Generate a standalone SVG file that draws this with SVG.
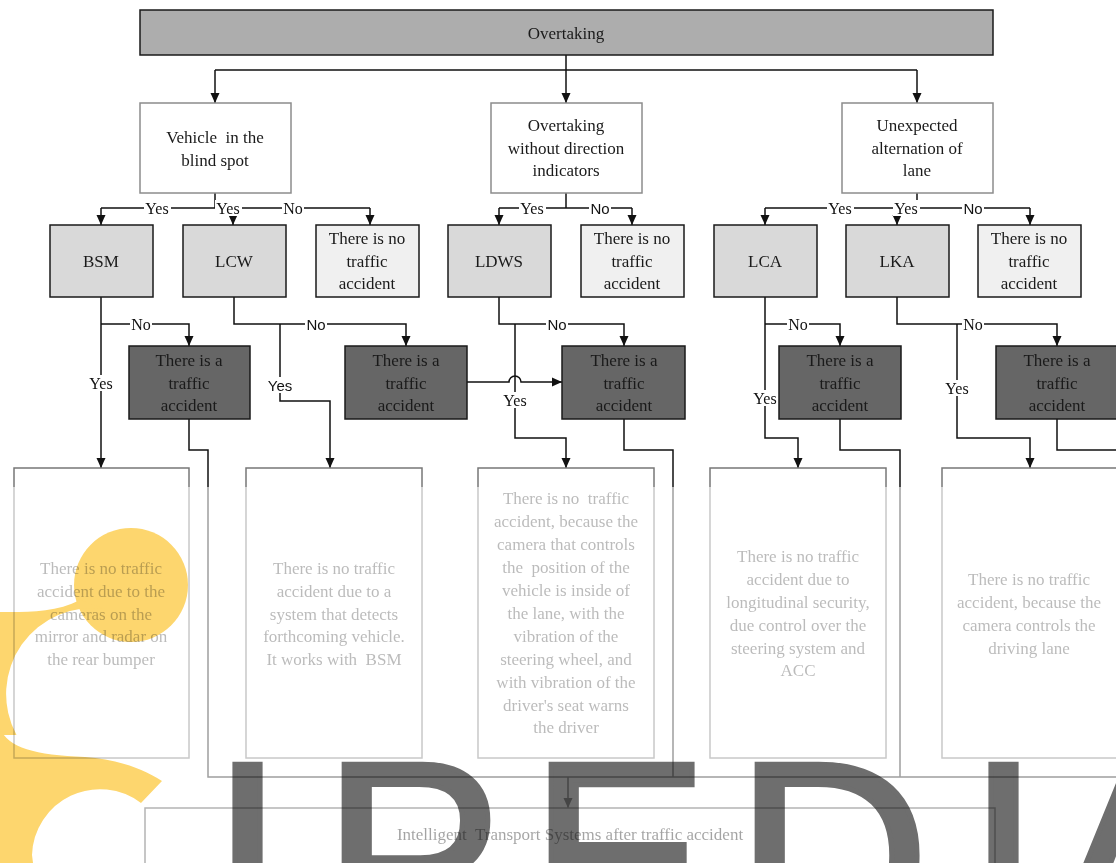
<svg xmlns="http://www.w3.org/2000/svg" width="1116" height="863" viewBox="0 0 1116 863">
  <defs>
    <marker id="arr" markerUnits="userSpaceOnUse" markerWidth="10" markerHeight="10" refX="10" refY="5" orient="auto">
      <path d="M0,0.5 L10,5 L0,9.5 z" fill="#111"/>
    </marker>
    <style>
      .t { font-family: "Liberation Serif", "Times New Roman", serif; font-size: 17px; text-anchor: middle; fill: #1a1a1a; white-space: pre; }
      .lb { font-family: "Liberation Serif", "Times New Roman", serif; font-size: 16px; text-anchor: middle; fill: #111; }
      .lbs { font-family: "Liberation Sans", Arial, sans-serif; font-size: 15px; text-anchor: middle; fill: #111; }
      .bg { fill: #fff; }
      .head { fill: #adadad; stroke: #1a1a1a; stroke-width: 1.5; }
      .cond { fill: #fff; stroke: #8c8c8c; stroke-width: 1.5; }
      .sys { fill: #d9d9d9; stroke: #1a1a1a; stroke-width: 1.5; }
      .safe { fill: #f0f0f0; stroke: #1a1a1a; stroke-width: 1.5; }
      .acc { fill: #666; stroke: #1a1a1a; stroke-width: 1.5; }
      .note { fill: #fff; stroke: #777; stroke-width: 1.5; }
      .nt { font-family: "Liberation Serif", "Times New Roman", serif; font-size: 17px; text-anchor: middle; fill: #555; white-space: pre; }
      .c { fill: none; stroke: #111; stroke-width: 1.5; }
      .ca { fill: none; stroke: #111; stroke-width: 1.5; marker-end: url(#arr); }
    </style>
  </defs>

  <!-- connectors -->
  <g id="connectors">
    <path class="c" d="M566,55 V70 M215,70 H917"/>
    <path class="ca" d="M215,70 V103"/>
    <path class="ca" d="M566,70 V103"/>
    <path class="ca" d="M917,70 V103"/>

    <path class="c" d="M215,193 V208 M101,208 H370"/>
    <path class="ca" d="M101,208 V225"/>
    <path class="ca" d="M233,208 V225"/>
    <path class="ca" d="M370,208 V225"/>

    <path class="c" d="M566,193 V208 M499,208 H632"/>
    <path class="ca" d="M499,208 V225"/>
    <path class="ca" d="M632,208 V225"/>

    <path class="c" d="M917,193 V208 M765,208 H1030"/>
    <path class="ca" d="M765,208 V225"/>
    <path class="ca" d="M897,208 V225"/>
    <path class="ca" d="M1030,208 V225"/>

    <!-- BSM -->
    <path class="ca" d="M101,297 V468"/>
    <path class="ca" d="M101,324 H189 V346"/>
    <!-- LCW -->
    <path class="ca" d="M234,297 V324 H406 V346"/>
    <path class="ca" d="M280,324 V401 H330 V468"/>
    <!-- LDWS -->
    <path class="ca" d="M499,297 V324 H624 V346"/>
    <path class="ca" d="M515,324 V438 H566 V468"/>
    <path class="ca" d="M467,382 H509 A6,6 0 0 1 521,382 H562"/>
    <!-- LCA -->
    <path class="ca" d="M765,297 V438 H798 V468"/>
    <path class="ca" d="M765,324 H840 V346"/>
    <!-- LKA -->
    <path class="ca" d="M897,297 V324 H1057 V346"/>
    <path class="ca" d="M957,324 V438 H1030 V468"/>

    <!-- accident outflows to the final block -->
    <path class="c" d="M189,419 V450 H208 V777 H1116"/>
    <path class="c" d="M624,419 V450 H673 V777"/>
    <path class="c" d="M840,419 V450 H900 V777"/>
    <path class="c" d="M1057,419 V450 H1116"/>
    <path class="ca" d="M568,777 V808"/>
  </g>

  <!-- branch labels -->
  <g id="labels">
    <rect class="bg" x="144" y="200" width="27" height="16"/><text class="lb" x="157" y="214">Yes</text>
    <rect class="bg" x="215" y="200" width="27" height="16"/><text class="lb" x="228" y="214">Yes</text>
    <rect class="bg" x="282" y="200" width="22" height="16"/><text class="lb" x="293" y="214">No</text>
    <rect class="bg" x="519" y="200" width="27" height="16"/><text class="lb" x="532" y="214">Yes</text>
    <rect class="bg" x="589" y="200" width="22" height="16"/><text class="lbs" x="600" y="213.5">No</text>
    <rect class="bg" x="827" y="200" width="27" height="16"/><text class="lb" x="840" y="214">Yes</text>
    <rect class="bg" x="893" y="200" width="27" height="16"/><text class="lb" x="906" y="214">Yes</text>
    <rect class="bg" x="962" y="200" width="22" height="16"/><text class="lbs" x="973" y="213.5">No</text>

    <rect class="bg" x="130" y="316" width="22" height="16"/><text class="lb" x="141" y="330">No</text>
    <rect class="bg" x="88" y="375" width="27" height="16"/><text class="lb" x="101" y="389">Yes</text>
    <rect class="bg" x="305" y="316" width="22" height="16"/><text class="lbs" x="316" y="329.5">No</text>
    <rect class="bg" x="266" y="377" width="28" height="16"/><text class="lbs" x="280" y="390.5">Yes</text>
    <rect class="bg" x="546" y="316" width="22" height="16"/><text class="lbs" x="557" y="329.5">No</text>
    <rect class="bg" x="502" y="392" width="27" height="16"/><text class="lb" x="515" y="406">Yes</text>
    <rect class="bg" x="787" y="316" width="22" height="16"/><text class="lb" x="798" y="330">No</text>
    <rect class="bg" x="752" y="390" width="27" height="16"/><text class="lb" x="765" y="404">Yes</text>
    <rect class="bg" x="962" y="316" width="22" height="16"/><text class="lb" x="973" y="330">No</text>
    <rect class="bg" x="944" y="380" width="27" height="16"/><text class="lb" x="957" y="394">Yes</text>
  </g>

  <!-- root -->
  <g id="overtaking">
    <rect class="head" x="140" y="10" width="853" height="45"/>
    <text class="t" x="566" y="39">Overtaking</text>
  </g>

  <!-- situations -->
  <g id="blind-spot">
    <rect class="cond" x="140" y="103" width="151" height="90"/>
    <text class="t"><tspan x="215" y="143">Vehicle  in the</tspan><tspan x="215" y="166">blind spot</tspan></text>
  </g>
  <g id="no-indicators">
    <rect class="cond" x="491" y="103" width="151" height="90"/>
    <text class="t"><tspan x="566" y="131">Overtaking</tspan><tspan x="566" y="154">without direction</tspan><tspan x="566" y="176">indicators</tspan></text>
  </g>
  <g id="lane-change">
    <rect class="cond" x="842" y="103" width="151" height="90"/>
    <text class="t"><tspan x="917" y="131">Unexpected</tspan><tspan x="917" y="154">alternation of</tspan><tspan x="917" y="176">lane</tspan></text>
  </g>

  <!-- assistance systems -->
  <g id="bsm">
    <rect class="sys" x="50" y="225" width="103" height="72"/>
    <text class="t" x="101" y="267">BSM</text>
  </g>
  <g id="lcw">
    <rect class="sys" x="183" y="225" width="103" height="72"/>
    <text class="t" x="234" y="267">LCW</text>
  </g>
  <g id="safe-1">
    <rect class="safe" x="316" y="225" width="103" height="72"/>
    <text class="t"><tspan x="367" y="244">There is no</tspan><tspan x="367" y="267">traffic</tspan><tspan x="367" y="289">accident</tspan></text>
  </g>
  <g id="ldws">
    <rect class="sys" x="448" y="225" width="103" height="72"/>
    <text class="t" x="499" y="267">LDWS</text>
  </g>
  <g id="safe-2">
    <rect class="safe" x="581" y="225" width="103" height="72"/>
    <text class="t"><tspan x="632" y="244">There is no</tspan><tspan x="632" y="267">traffic</tspan><tspan x="632" y="289">accident</tspan></text>
  </g>
  <g id="lca">
    <rect class="sys" x="714" y="225" width="103" height="72"/>
    <text class="t" x="765" y="267">LCA</text>
  </g>
  <g id="lka">
    <rect class="sys" x="846" y="225" width="103" height="72"/>
    <text class="t" x="897" y="267">LKA</text>
  </g>
  <g id="safe-3">
    <rect class="safe" x="978" y="225" width="103" height="72"/>
    <text class="t"><tspan x="1029" y="244">There is no</tspan><tspan x="1029" y="267">traffic</tspan><tspan x="1029" y="289">accident</tspan></text>
  </g>

  <!-- accident outcomes -->
  <g id="acc-bsm">
    <rect class="acc" x="129" y="346" width="121" height="73"/>
    <text class="t"><tspan x="189" y="366">There is a</tspan><tspan x="189" y="389">traffic</tspan><tspan x="189" y="411">accident</tspan></text>
  </g>
  <g id="acc-lcw">
    <rect class="acc" x="345" y="346" width="122" height="73"/>
    <text class="t"><tspan x="406" y="366">There is a</tspan><tspan x="406" y="389">traffic</tspan><tspan x="406" y="411">accident</tspan></text>
  </g>
  <g id="acc-ldws">
    <rect class="acc" x="562" y="346" width="123" height="73"/>
    <text class="t"><tspan x="624" y="366">There is a</tspan><tspan x="624" y="389">traffic</tspan><tspan x="624" y="411">accident</tspan></text>
  </g>
  <g id="acc-lca">
    <rect class="acc" x="779" y="346" width="122" height="73"/>
    <text class="t"><tspan x="840" y="366">There is a</tspan><tspan x="840" y="389">traffic</tspan><tspan x="840" y="411">accident</tspan></text>
  </g>
  <g id="acc-lka">
    <rect class="acc" x="996" y="346" width="122" height="73"/>
    <text class="t"><tspan x="1057" y="366">There is a</tspan><tspan x="1057" y="389">traffic</tspan><tspan x="1057" y="411">accident</tspan></text>
  </g>

  <!-- explanations -->
  <g id="why-bsm">
    <rect class="note" x="14" y="468" width="175" height="290"/>
    <text class="nt"><tspan x="101" y="574">There is no traffic</tspan><tspan x="101" y="597">accident due to the</tspan><tspan x="101" y="620">cameras on the</tspan><tspan x="101" y="642">mirror and radar on</tspan><tspan x="101" y="665">the rear bumper</tspan></text>
  </g>
  <g id="why-lcw">
    <rect class="note" x="246" y="468" width="176" height="290"/>
    <text class="nt"><tspan x="334" y="574">There is no traffic</tspan><tspan x="334" y="597">accident due to a</tspan><tspan x="334" y="620">system that detects</tspan><tspan x="334" y="642">forthcoming vehicle.</tspan><tspan x="334" y="665">It works with  BSM</tspan></text>
  </g>
  <g id="why-ldws">
    <rect class="note" x="478" y="468" width="176" height="290"/>
    <text class="nt"><tspan x="566" y="504">There is no  traffic</tspan><tspan x="566" y="527">accident, because the</tspan><tspan x="566" y="550">camera that controls</tspan><tspan x="566" y="573">the  position of the</tspan><tspan x="566" y="596">vehicle is inside of</tspan><tspan x="566" y="619">the lane, with the</tspan><tspan x="566" y="642">vibration of the</tspan><tspan x="566" y="665">steering wheel, and</tspan><tspan x="566" y="688">with vibration of the</tspan><tspan x="566" y="711">driver's seat warns</tspan><tspan x="566" y="733">the driver</tspan></text>
  </g>
  <g id="why-lca">
    <rect class="note" x="710" y="468" width="176" height="290"/>
    <text class="nt"><tspan x="798" y="562">There is no traffic</tspan><tspan x="798" y="585">accident due to</tspan><tspan x="798" y="608">longitudinal security,</tspan><tspan x="798" y="631">due control over the</tspan><tspan x="798" y="654">steering system and</tspan><tspan x="798" y="676">ACC</tspan></text>
  </g>
  <g id="why-lka">
    <rect class="note" x="942" y="468" width="176" height="290"/>
    <text class="nt"><tspan x="1029" y="585">There is no traffic</tspan><tspan x="1029" y="608">accident, because the</tspan><tspan x="1029" y="631">camera controls the</tspan><tspan x="1029" y="654">driving lane</tspan></text>
  </g>

  <!-- final block -->
  <g id="its">
    <rect x="145" y="808" width="850" height="70" fill="#fff" stroke="#444" stroke-width="1.5"/>
    <text class="t" x="570" y="840" fill="#222">Intelligent  Transport Systems after traffic accident</text>
  </g>

  <!-- faded lower band -->
  <rect x="0" y="487" width="1116" height="376" fill="#fff" fill-opacity="0.6"/>

  <!-- logo mark -->
  <g id="logo" fill="#fdd66e" style="mix-blend-mode:multiply">
    <circle cx="131" cy="585" r="57"/>
    <path d="M0,612 C25,612 55,613 80,600 L105,609 A86,86 0 0 0 16.5,735 L0,735 Z"/>
    <path d="M0,728 C8,748 35,755 85,757 C115,759 142,768 162,781 L141,803 A68,68 0 0 0 32,855 L33,863 L0,863 Z"/>
  </g>

  <!-- lettering -->
  <text x="210 322 529 735 966 1050" y="950" font-family="Liberation Sans, Arial, sans-serif" font-size="270" fill="#6e6e6e" stroke="#6e6e6e" stroke-width="5" style="mix-blend-mode:multiply">IPEDIA</text>
</svg>
